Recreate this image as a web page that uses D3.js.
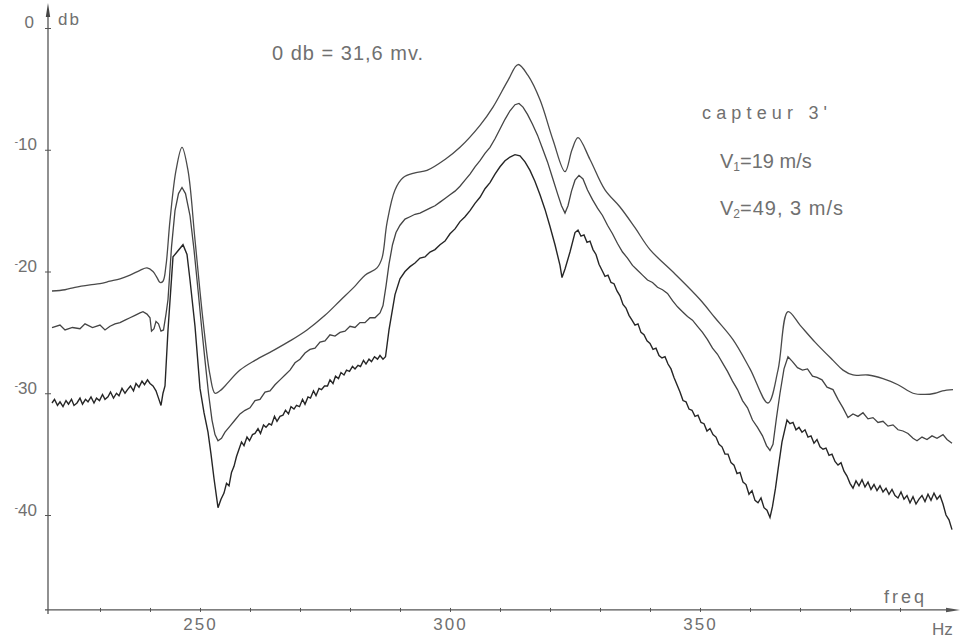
<!DOCTYPE html>
<html>
<head>
<meta charset="utf-8">
<script src="https://cdn.jsdelivr.net/npm/d3@7/dist/d3.min.js"></script>
<style>
  body { margin: 0; background: #fff; }
  text { font-family: "Liberation Sans", "DejaVu Sans", sans-serif; fill: #707070; }
</style>
</head>
<body>
<svg id="chart" width="966" height="640"></svg>
<script>
// axis ticks
var freqTicks = [230, 240, 250, 260, 270, 280, 290, 300, 310, 320, 330, 340, 350, 360, 370, 380, 390];
var freqLabels = [250, 300, 350];
var dbTicks = [0, -10, -20, -30, -40];

// traces: [freq Hz, level db]
var traceTop = [
  [220.4, -21.6], [223, -21.5], [225, -21.3], [228, -21.1], [230, -21.0], [232, -20.8], [234, -20.6],
  [236, -20.3], [238, -19.9], [239.4, -19.7], [240.6, -20.0], [241.4, -20.5], [242, -20.9], [242.6, -20.8],
  [243.2, -19.5], [244, -15.8], [245.2, -11.7], [246.4, -9.8], [247.6, -11.7], [249, -17.4], [250.6, -24.0],
  [252, -28.5], [253, -30.0], [254, -29.8], [255, -29.4], [258, -28.1], [261, -27.3], [264.6, -26.5],
  [268, -25.7], [271.4, -24.8], [275, -23.6], [278, -22.4], [281, -21.2], [283, -20.3], [285.4, -19.7],
  [286.4, -18.9], [287.4, -16.0], [289, -13.3], [290.6, -12.3], [293, -11.9], [295.4, -11.7], [299, -10.8],
  [302, -9.8], [306, -8.0], [308.6, -6.5], [311.6, -4.3], [313.6, -3.0], [315.6, -3.9], [318, -5.9],
  [320.6, -9.2], [323, -11.8], [324.4, -10.0], [325.6, -9.0], [328, -10.8], [331, -13.3], [334, -14.7],
  [337, -16.4], [340, -18.2], [345, -20.2], [350, -22.3], [353, -23.8], [356.6, -25.6], [360, -28.0],
  [363.6, -30.8], [365.6, -28.1], [367.6, -23.3], [370, -24.4], [373, -25.8], [376.6, -27.3], [378.6, -28.1],
  [380.6, -28.5], [383.6, -28.5], [386.6, -28.8], [389.6, -29.3], [392.6, -30.0], [395, -30.1], [397, -30.0],
  [398.5, -29.8], [400.6, -29.7]
];

var traceMid = [
  [220.4, -24.6], [222, -24.4], [223, -24.8], [224.5, -24.6], [226, -24.7], [227, -24.3], [228.5, -24.6],
  [230, -24.4], [231, -24.8], [232, -24.5], [233, -24.3], [234, -24.2], [235, -24.0], [236, -23.8],
  [237, -23.6], [238, -23.4], [238.6, -23.3], [239.4, -23.5], [240, -23.8], [240.3, -24.9], [240.8, -24.7],
  [241.2, -24.1], [241.7, -24.3], [242.2, -24.9], [242.7, -24.8], [243.2, -23.5], [243.6, -22.3], [244.3, -18.0],
  [245, -15.0], [245.7, -13.6], [246.4, -13.1], [247.1, -13.6], [248, -15.4], [248.8, -18.2], [249.6, -21.5],
  [250.3, -24.5], [251, -27.3], [251.7, -30.0], [252.4, -32.2], [253, -33.4], [253.6, -33.9], [254.3, -33.7],
  [255, -33.2], [256, -32.7], [257, -32.2], [258, -31.7], [259, -31.4], [260, -31.2], [261, -30.6],
  [262, -30.5], [263, -29.9], [264, -29.8], [265, -29.3], [266, -28.9], [267, -28.5], [268, -28.1],
  [269, -27.5], [270, -27.2], [271, -26.7], [272, -26.4], [273, -26.3], [274, -25.8], [275, -25.7],
  [276, -25.2], [277, -25.3], [278, -25.0], [279, -24.9], [280, -24.5], [281, -24.6], [282, -24.2],
  [283, -24.2], [284, -23.8], [285, -23.8], [286, -23.4], [286.6, -22.8], [287.2, -21.2], [287.8, -19.4],
  [288.5, -17.8], [289.2, -16.8], [290, -16.2], [291, -15.7], [292, -15.5], [293, -15.3], [294, -15.2],
  [295, -15.0], [296, -14.8], [297, -14.6], [298, -14.3], [299, -14.0], [300, -13.7], [301, -13.4],
  [302, -13.0], [303, -12.5], [304, -12.0], [305, -11.4], [306, -10.9], [307, -10.3], [308, -9.8],
  [309, -9.1], [310, -8.3], [311, -7.5], [312, -6.8], [313, -6.3], [313.8, -6.2], [314.6, -6.5],
  [315.5, -7.1], [316.5, -7.9], [317.5, -8.8], [318.5, -9.9], [319.5, -11.0], [320.5, -12.3], [321.5, -13.6],
  [322.3, -14.6], [323, -15.2], [323.6, -14.6], [324.3, -13.4], [325, -12.5], [325.8, -12.1], [326.6, -12.4],
  [327.5, -13.3], [328.5, -14.1], [329.5, -14.8], [330.5, -15.4], [331.5, -16.2], [332.5, -16.9], [333.5, -17.7],
  [334.5, -18.4], [335.5, -18.9], [336.5, -19.5], [337.5, -19.9], [338.5, -20.3], [339.5, -20.7], [340.5, -20.9],
  [341.5, -21.3], [342.5, -21.5], [343.5, -21.8], [344.5, -22.4], [345.5, -22.9], [346.5, -23.3], [347.5, -23.7],
  [348.5, -24.0], [349.5, -24.5], [350.5, -25.0], [351.5, -25.6], [352.5, -26.3], [353.5, -26.8], [354.5, -27.5],
  [355.5, -28.2], [356.5, -29.0], [357.5, -29.7], [358.5, -30.6], [359.5, -31.2], [360.5, -32.2], [361.5, -32.8],
  [362.5, -33.5], [363.3, -34.3], [364, -34.7], [364.6, -34.2], [365.3, -32.0], [366, -30.0], [366.8, -28.0],
  [367.6, -27.0], [368.5, -27.4], [369.5, -27.9], [370.5, -28.1], [371.5, -28.0], [372.5, -28.6], [373.4, -28.7],
  [374.4, -28.9], [375.4, -29.5], [376.6, -29.7], [377.6, -30.5], [378.6, -31.2], [379.6, -32.0], [380.6, -31.7],
  [381.6, -31.9], [382.6, -31.6], [383.6, -32.1], [384.6, -32.0], [385.6, -32.4], [386.6, -32.3], [387.6, -32.7],
  [388.6, -32.6], [389.6, -33.0], [390.6, -33.1], [391.6, -33.3], [392.6, -33.7], [393.4, -33.9], [394.4, -33.6],
  [395.4, -33.8], [396.4, -33.5], [397.4, -33.7], [398.6, -33.4], [399.4, -33.8], [400.4, -34.1]
];

var traceLow = [
  [220.4, -30.8], [220.9, -30.5], [221.5, -31.0], [222, -30.7], [222.6, -31.1], [223.2, -30.6], [223.7, -30.9],
  [224.3, -30.5], [224.8, -31.0], [225.4, -30.8], [226, -30.4], [226.5, -30.9], [227.1, -30.5], [227.6, -30.7],
  [228.2, -30.3], [228.8, -30.8], [229.3, -30.4], [229.9, -30.6], [230.5, -30.1], [231, -30.5], [231.6, -30.3],
  [232.1, -29.9], [232.7, -30.4], [233.3, -30.0], [233.8, -30.2], [234.4, -29.6], [235, -30.0], [235.5, -29.7],
  [236.1, -29.4], [236.7, -29.8], [237.2, -29.2], [237.8, -29.5], [238.4, -29.0], [238.9, -29.3], [239.5, -28.9],
  [240, -29.2], [240.6, -29.4], [241.2, -29.8], [241.7, -30.4], [242.2, -31.0], [242.6, -30.0], [243, -29.4],
  [243.6, -24.8], [244.6, -18.8], [245.4, -18.4], [246.6, -17.8], [247.4, -18.6], [248, -20.7], [249, -24.5],
  [250, -29.6], [250.8, -31.6], [251.6, -33.2], [252.2, -35.0], [252.8, -37.0], [253.6, -39.4], [254.2, -38.7],
  [254.8, -38.2], [255.3, -37.4], [255.8, -37.6], [256.3, -36.5], [256.8, -36.0], [257.3, -35.2], [257.8, -34.6],
  [258.3, -34.0], [258.8, -34.3], [259.4, -33.6], [259.9, -33.9], [260.5, -33.4], [261, -33.3], [261.6, -32.9],
  [262.1, -33.3], [262.7, -32.6], [263.2, -32.8], [263.8, -32.5], [264.3, -32.6], [264.9, -31.9], [265.4, -32.3],
  [266, -31.9], [266.6, -31.8], [267.1, -31.4], [267.7, -31.7], [268.2, -31.1], [268.8, -31.3], [269.3, -31.0],
  [269.9, -31.1], [270.5, -30.5], [271, -30.9], [271.6, -30.3], [272.1, -30.4], [272.7, -29.8], [273.2, -30.2],
  [273.8, -29.6], [274.3, -29.7], [274.9, -29.4], [275.5, -29.4], [276, -28.9], [276.6, -29.2], [277.1, -28.6],
  [277.7, -28.8], [278.2, -28.3], [278.8, -28.5], [279.3, -28.1], [279.9, -28.2], [280.5, -27.8], [281, -28.0],
  [281.6, -27.7], [282.1, -27.8], [282.7, -27.3], [283.2, -27.6], [283.8, -27.2], [284.3, -27.4], [284.9, -27.0],
  [285.5, -27.2], [286, -26.9], [286.6, -27.2], [287.1, -27.0], [287.8, -24.8], [289, -21.9], [290, -20.6],
  [291, -20.0], [292, -19.6], [293, -19.3], [294, -18.9], [295, -18.8], [296, -18.4], [297, -18.2],
  [298, -17.8], [299, -17.5], [300, -16.9], [301, -16.5], [302, -15.9], [303, -15.5], [304, -15.0],
  [305, -14.4], [306, -13.9], [307, -13.2], [308, -12.7], [309, -12.0], [310, -11.4], [311, -10.9],
  [312, -10.6], [313, -10.4], [314, -10.5], [315, -11.0], [316, -11.7], [317, -12.6], [318, -13.7],
  [319, -14.9], [320, -16.3], [321, -17.8], [322, -19.5], [322.4, -20.5], [323, -19.8], [324, -18.4],
  [325, -16.8], [325.6, -16.6], [326.2, -17.1], [326.8, -17.0], [327.4, -17.6], [328, -17.5], [328.6, -18.2],
  [329.2, -18.6], [329.8, -19.4], [330.4, -19.9], [331, -20.4], [331.6, -20.3], [332.2, -20.9], [332.8, -21.0],
  [333.4, -21.6], [334, -22.0], [334.6, -22.7], [335.2, -23.0], [335.8, -23.6], [336.4, -24.0], [337, -24.4],
  [337.6, -24.3], [338.2, -25.0], [338.8, -25.2], [339.4, -25.7], [340, -25.9], [340.6, -26.4], [341.2, -26.3],
  [341.8, -26.9], [342.4, -27.1], [343, -27.0], [343.6, -27.6], [344.2, -28.0], [344.8, -28.7], [345.4, -29.3],
  [346, -29.9], [346.6, -30.6], [347.2, -30.7], [347.8, -31.3], [348.4, -31.4], [349, -31.9], [349.6, -31.8],
  [350.2, -32.4], [350.8, -32.5], [351.4, -33.1], [352, -32.9], [352.6, -33.4], [353.2, -33.6], [353.8, -34.2],
  [354.4, -34.4], [355, -35.0], [355.6, -35.0], [356.2, -35.7], [356.8, -35.9], [357.4, -36.6], [358, -36.5],
  [358.6, -37.3], [359.2, -37.5], [359.8, -38.3], [360.4, -38.0], [361, -38.8], [361.6, -39.0], [362.2, -38.6],
  [362.8, -39.4], [363.4, -39.6], [364, -40.2], [364.5, -39.3], [365.1, -37.8], [365.6, -36.3], [366.4, -34.0],
  [367.4, -32.2], [368, -32.5], [368.6, -32.4], [369.2, -33.0], [369.8, -32.8], [370.4, -33.2], [371, -33.0],
  [371.6, -33.6], [372.2, -33.5], [372.8, -34.1], [373.4, -33.8], [374, -34.4], [374.6, -34.6], [375.2, -34.5],
  [375.8, -35.1], [376.4, -35.0], [377, -35.6], [377.6, -35.9], [378.2, -35.7], [378.8, -36.4], [379.4, -36.8],
  [380, -37.4], [380.6, -37.8], [381.2, -37.2], [381.8, -37.6], [382.4, -37.1], [383, -37.7], [383.6, -37.3],
  [384.2, -37.9], [384.8, -37.5], [385.4, -38.0], [386, -37.6], [386.6, -38.1], [387.2, -37.8], [387.8, -38.3],
  [388.4, -37.9], [389, -38.4], [389.6, -38.6], [390.2, -38.1], [390.8, -38.7], [391.4, -38.4], [392, -39.0],
  [392.6, -38.5], [393.2, -39.1], [393.8, -38.7], [394.4, -38.4], [395, -38.9], [395.6, -38.3], [396.2, -38.8],
  [396.8, -38.2], [397.4, -38.7], [398, -38.4], [398.6, -39.1], [399.2, -40.0], [399.8, -40.4], [400.4, -41.2]
];

var svg = d3.select("#chart");

var x = d3.scaleLinear().domain([220, 400]).range([50, 950]);
var y = d3.scaleLinear().domain([-40, 0]).range([515, 28]);

var xOrigin = x(219.6);   // where the db axis stands
var yFloor = y(-47.8);    // where the freq axis lies

// axes lines + arrows
var axisColor = "#555";
svg.append("line")
  .attr("x1", xOrigin).attr("x2", xOrigin)
  .attr("y1", 10).attr("y2", yFloor + 4)
  .attr("stroke", axisColor).attr("stroke-width", 1.3);
svg.append("path")
  .attr("d", "M" + xOrigin + ",3 L" + (xOrigin - 2.2) + ",17 L" + (xOrigin + 2.2) + ",17 Z")
  .attr("fill", "#444");

svg.append("line")
  .attr("x1", xOrigin - 3).attr("x2", 950)
  .attr("y1", yFloor).attr("y2", yFloor)
  .attr("stroke", axisColor).attr("stroke-width", 1.3);
svg.append("path")
  .attr("d", "M960," + yFloor + " L946," + (yFloor - 2.2) + " L946," + (yFloor + 2.2) + " Z")
  .attr("fill", "#555");

// freq axis ticks
var xAxis = svg.append("g")
  .attr("transform", "translate(0," + yFloor + ")")
  .call(d3.axisBottom(x).tickValues(freqTicks).tickSize(2).tickPadding(6)
    .tickFormat(d => freqLabels.indexOf(d) >= 0 ? d : ""));
xAxis.select(".domain").remove();
xAxis.selectAll(".tick line").attr("y1", -2).attr("stroke", axisColor);
xAxis.selectAll(".tick text")
  .style("font-size", "17px").style("letter-spacing", "2px")
  .attr("fill", "#707070").attr("font-family", null);

// db axis ticks
var yAxis = svg.append("g")
  .attr("transform", "translate(" + xOrigin + ",0)")
  .call(d3.axisLeft(y).tickValues(dbTicks).tickSize(3).tickPadding(8));
yAxis.select(".domain").remove();
yAxis.selectAll(".tick line").attr("x1", 3).attr("x2", -3).attr("stroke", axisColor);
yAxis.selectAll(".tick text")
  .attr("fill", "#707070").attr("font-family", null)
  .style("font-size", "17px")
  .attr("dy", "0.3em")
  .each(function(d) {
    var t = d3.select(this).text("");
    if (d < 0) {
      t.append("tspan").text("-").style("font-size", "11px").attr("dy", "-0.45em");
      t.append("tspan").text(Math.abs(d)).attr("dy", "0.3em");
    } else {
      t.attr("dy", "-0.05em").attr("x", -14).text(d);
    }
  });

// traces
var line = d3.line().x(d => x(d[0])).y(d => y(d[1]));

svg.append("path")
  .attr("d", d3.line().x(d => x(d[0])).y(d => y(d[1])).curve(d3.curveCatmullRom)(traceTop))
  .attr("fill", "none").attr("stroke", "#4a4a4a").attr("stroke-width", 1.3);
svg.append("path")
  .attr("d", line(traceMid))
  .attr("fill", "none").attr("stroke", "#444").attr("stroke-width", 1.3);
svg.append("path")
  .attr("d", line(traceLow))
  .attr("fill", "none").attr("stroke", "#262626").attr("stroke-width", 1.4);

// labels
svg.append("text").attr("x", 58).attr("y", 25)
  .style("font-size", "17px").style("letter-spacing", "2px").text("db");
svg.append("text").attr("x", 884).attr("y", 603)
  .style("font-size", "18px").style("letter-spacing", "3px").text("freq");
svg.append("text").attr("x", 932).attr("y", 635)
  .style("font-size", "17px").text("Hz");

svg.append("text").attr("x", 272).attr("y", 60)
  .style("font-size", "20px")
  .attr("textLength", 151).attr("lengthAdjust", "spacing")
  .text("0 db = 31,6 mv.");

svg.append("text").attr("x", 702).attr("y", 119)
  .style("font-size", "18px")
  .attr("textLength", 125).attr("lengthAdjust", "spacing")
  .text("capteur  3'");

var v1 = svg.append("text").attr("x", 720).attr("y", 168).style("font-size", "20px");
v1.append("tspan").text("V");
v1.append("tspan").text("1").style("font-size", "12px").attr("dy", 3);
v1.append("tspan").text("=19  m/s").attr("dy", -3);

var v2 = svg.append("text").attr("x", 720).attr("y", 215).style("font-size", "20px");
v2.append("tspan").text("V");
v2.append("tspan").text("2").style("font-size", "12px").attr("dy", 3);
v2.append("tspan").text("=49, 3 m/s").attr("dy", -3).style("letter-spacing", "1px");
</script>
</body>
</html>
